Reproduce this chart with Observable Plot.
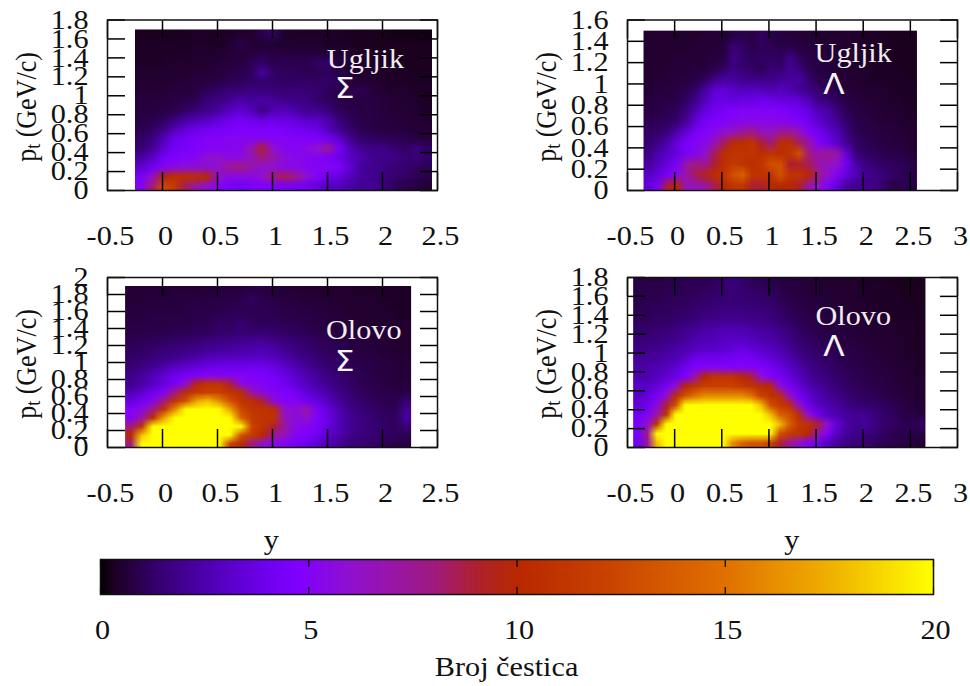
<!DOCTYPE html>
<html><head><meta charset="utf-8">
<script src="https://cdn.jsdelivr.net/npm/d3@7"></script>
<script src="https://cdn.jsdelivr.net/npm/@observablehq/plot@0.6"></script>
<style>
html,body{margin:0;padding:0;background:#fff;}
#page{position:relative;width:970px;height:686px;overflow:hidden;font-family:"Liberation Serif",serif;}
#page svg{position:absolute;display:block;background:transparent;}
.yl{position:absolute;font-size:26px;color:#111;white-space:nowrap;transform:translate(-50%,-50%) rotate(-90deg) scaleY(1.12);}
.yl sub{font-size:18px;vertical-align:-4px;line-height:0;}
</style></head><body><div id="page"></div>
<script>
const colorStops=[0,0.3,1.3,2.6,4,4.8,6,8,9,10,12,15,17.5,20];
const colorHex=["#000000","#1c0020","#34006a","#5000b4","#7000f0","#8000ff","#9010d0","#a01a80","#ae2030","#b82800","#c84000","#e07000","#f0b000","#ffff00"];
const ticks02=[0,.2,.4,.6,.8,1,1.2,1.4,1.6,1.8,2];

const ugljikSigma=[
[.3,.3,.3,.3,.3,.4,.4,.4,.4,.5,.5,.9,1.2,.5,.4,.4,.4,.4,.4,.3,.3,.3,.3,.2,.2,.2,.2],
[.4,.4,.4,.4,.4,.4,.4,.4,.5,.9,.6,.6,.6,.5,.5,.5,.5,.4,.4,.4,.3,.3,.3,.3,.3,.3,.3],
[.4,.4,.4,.4,.4,.5,.5,.5,.6,.6,.7,.8,.8,.7,.7,.7,.7,.6,.5,.5,.4,.4,.3,.3,.3,.3,.3],
[.4,.4,.4,.5,.5,.5,.5,.6,.7,.7,1,1.3,.9,1,1,.9,1.2,1.3,.7,.5,.5,.4,.4,.3,.3,.3,.3],
[.5,.5,.5,.5,.5,.6,.6,.7,.8,.9,1.1,2.2,1.3,1.1,1.1,1,1,1.1,.9,.6,.5,.5,.4,.4,.4,.3,.3],
[.5,.5,.5,.6,.6,.7,.8,.8,1,1.1,1.2,1.3,1.3,1.2,1.2,1.3,1.2,1.3,1,.7,.6,.6,.5,.4,.4,.4,.4],
[.6,.6,.6,.7,.7,.8,1.1,1.3,1.6,1.5,1.8,1.6,1.6,1.5,1.6,1.5,1.4,1.1,.8,.9,1,.7,.6,.5,.5,.4,.4],
[.7,.7,.7,.8,.9,1,1.6,1.7,2,2.5,2.2,2.4,2.2,1.9,1.8,1.8,1.3,1.2,.9,.8,.7,.8,.7,.6,.5,.5,.4],
[.7,.7,.8,.9,1.2,1.5,1.8,2.2,2.8,3.2,2.8,1.7,2.5,2.8,2.5,1.9,2,1.6,1.1,.9,.8,.8,.7,.6,.6,.5,.4],
[.8,.9,1.1,1.6,2.2,2.6,2.8,3.4,3.8,4.2,3.9,3.6,3.8,3.6,3.5,3,3,2.5,1.6,1.1,.9,.8,.7,.7,.6,.6,.5],
[.9,1.2,1.7,2.6,3.4,3.8,4,4.4,4.6,4.8,4.7,4.6,4.8,4.6,4.2,4,3.8,2.8,2,1.3,1,.8,.8,.7,.7,.6,.6],
[1.2,1.6,2.6,3.8,4.3,4.7,5,5,5.2,5.2,5.2,5.2,5.1,5.1,5,4.8,4.6,4.2,3.2,2,1.3,1.2,1.1,1,.9,.8,.7],
[1.5,2,3.2,4.2,4.5,4.8,5,5,5.2,5.2,6.5,9,6,5.2,5,5.5,6,7.5,4.5,2.8,2,1.8,1.8,1.5,1.2,1.6,1.2],
[2.2,3,4.2,4.8,5,5.2,6,6.2,5.6,5.6,6.5,8,7,5.8,5.4,5.2,5,4.6,3.8,3,2.5,2,1.8,1.8,1.5,1.6,1.3],
[3.2,4,5,5.5,5.8,5.8,5.8,6,7.5,8,7,6,6,5.5,5.4,5.2,5,5.2,4.8,3.4,2.2,2,1.8,1.5,1.4,1.2,1],
[4.4,6,9.5,10.5,10.5,10.5,10,6.5,5.5,5.5,5.5,6,8,8.5,8,6,5,4,3.5,2.8,2.2,1.9,1.7,1.4,1.2,1,.8],
[5,8,12.5,11.5,8.5,7,6,5,4.5,4.2,4.5,4.8,4.8,4.5,4.2,4,3.5,3,2.8,2.4,2,2.2,1.6,1.1,.9,.8,.6]];

const ugljikLambda=[
[.5,.5,.5,.5,.5,.5,.6,.6,.6,.8,.9,.8,1.2,.9,.7,.7,.6,.6,.5,.5,.5,.5,.5,.4,.4,.3,.3,.3,.3],
[.5,.5,.5,.5,.5,.6,.6,.6,.7,1.6,1.2,.9,1.1,1,.9,.9,.8,.7,.6,.6,.5,.5,.5,.4,.4,.3,.3,.3,.3],
[.5,.5,.5,.6,.6,.6,.6,.7,.8,1.8,1.3,1.1,1.2,1.2,1.1,1.8,1.1,.8,.7,.7,.6,.5,.5,.4,.4,.4,.3,.3,.3],
[.5,.5,.6,.6,.6,.7,.7,.9,1.2,1.7,1.4,1.3,1,1.5,1.3,2,1.6,1,.8,.7,.6,.5,.5,.5,.4,.4,.4,.3,.3],
[.5,.6,.6,.7,.7,.8,1.1,1.8,2.2,2.2,1.9,1.8,1.8,1.8,2,2.2,2.2,1.4,.9,.8,.6,.6,.5,.5,.4,.4,.4,.4,.3],
[.6,.7,.7,.8,.9,1.3,2.2,3.2,3.4,3,2.8,2.9,2.8,2.5,2.8,2.5,2,1.8,1.3,1,.8,.6,.6,.5,.5,.5,.4,.4,.4],
[.7,.8,.8,.9,1.2,1.9,2.8,3.6,3.7,3.5,3.8,3.7,4,3.9,3.6,3.6,3.4,2.7,1.8,1.5,1.1,.8,.7,.6,.6,.5,.5,.4,.4],
[.8,.8,1,1.1,1.6,2.6,3.5,4.1,4.5,4.8,5,5,5,5,4.9,4.5,4,3.6,2.7,2.4,1.6,1,.8,.7,.6,.6,.5,.5,.4],
[1,1,1.1,1.4,2.2,3.4,4.5,4.8,5,5.2,5.3,5.4,5.4,5.4,5.2,5.2,4.8,4,3.2,2.6,2,1.3,.9,.8,.7,.6,.6,.5,.5],
[1.2,1.3,1.6,2.5,3.4,4.6,5,5.4,6,6.5,7.5,8,6.5,6.5,7.5,7.5,6.6,5,4.3,3.4,2.6,1.7,1,.9,.8,.7,.7,.6,.5],
[1.4,1.7,2.5,3.6,4.5,5,5.5,6.5,8.5,10.5,10.5,11,9,8,10.5,10.5,8.5,7,5,4,3.2,2,1.3,1,.9,.8,.7,.7,.5],
[1.8,2.5,3,3.6,4.5,5.2,6,8.5,10.5,11,11,11,10.5,11,10.5,11,13,8,7,7.5,7,3.5,1.6,1.2,1,.9,.8,.8,.6],
[2.2,2.8,3.5,4.5,7,8,7.5,9,10.5,11.5,11,10.5,11,13,13,9,9,8.5,7,6.5,6,4,2.4,1.7,1.4,1.2,1.1,1,.8],
[3,3.5,4.5,5.5,7,8.5,9.5,10.5,11,13,14,11,11,11,13,11,11,10,8,6,5,3.5,2.6,2,1.8,1.5,1.2,1,.8],
[3.5,4.5,9,10,6.5,6.5,7,8.5,10,11,11,9,9,10,10,10,9,7,6,5,3.5,2.2,2,1.8,1.8,1.2,.8,1,.8]];

const olovoSigma=[
[.6,.6,.6,.6,.6,.6,.6,.6,.7,.7,.7,.8,.8,.7,.6,.6,.5,.5,.5,.5,.5,.4,.4,.4,.4,.4],
[.6,.6,.7,.7,.7,.7,.7,.8,.8,.8,.9,1.2,.9,.8,.7,.7,.6,.6,.6,.5,.5,.5,.5,.4,.4,.4],
[.7,.7,.7,.7,.7,.8,.8,.8,.9,.9,1,1,1,.9,.8,.8,.7,.7,.6,.6,.5,.5,.5,.5,.4,.4],
[.7,.7,.8,.8,.8,.8,.9,.9,1,1.1,1.1,1,1,1,.9,.9,.8,.7,.7,.6,.6,.5,.5,.5,.5,.4],
[.8,.8,.8,.8,.9,.9,1,1,1.3,1.1,1.5,1.2,1.1,1.1,1,1,.9,.8,.7,.7,.6,.6,.5,.5,.5,.5],
[.8,.9,.9,.9,1,1,1.1,1.1,1.3,1.3,1.5,1.4,1.5,1.3,1.2,1.1,1,.9,.8,.7,.7,.6,.6,.6,.5,.5],
[1,1,1.1,1.2,1.3,1.4,1.5,1.7,1.8,1.9,2,2.1,2.1,1.9,1.7,1.4,1.3,1.1,1,.9,.7,.7,.6,.6,.5,.5],
[1.1,1.2,1.3,1.5,1.6,1.7,1.9,2.1,2.2,2.3,2.4,2.5,2.6,2.4,2,1.7,1.4,1.2,1.1,1,.8,.7,.7,.6,.6,.5],
[1.3,1.4,1.6,1.8,2,2.2,2.4,2.8,2.9,3,3,3.1,3.1,2.9,2.5,2,1.7,1.4,1.2,1.1,.9,.8,.8,.7,.6,.6],
[1.4,1.7,2,2.4,2.9,3.2,3.6,3.8,3.9,4,4,4,4,3.6,3.1,2.6,2.1,1.7,1.4,1.3,1,.9,.8,.7,.7,.6],
[1.8,2.2,2.7,3.3,4,4.4,4.8,5,5,5,5,4.9,4.7,4.3,3.7,3.1,2.5,2.1,1.6,1.4,1.1,1,.8,.8,.7,.6],
[1.9,2.4,3,3.6,4.5,6,10,11,11,9,5.6,5.2,5,4.6,4.1,3.4,2.9,2.3,1.9,1.5,1.2,1,.9,.8,.7,.7],
[2.6,3.2,4,5,8,10.5,11.5,12,12,11,10.5,7,5.5,5.2,4.8,4.2,3.4,2.8,2.3,1.8,1.4,1.1,1,.9,.8,.8],
[3.5,4.2,5.2,8,11,13,17,18,16,13,11,10.5,9,5.6,5,5,4.2,3.6,2.8,2,1.6,1.3,1.1,1,.9,1.4],
[5,5.5,8,11,16,26,26,26,24,17,12.5,11,11,10.5,6,5.8,7,4.5,3.4,2.5,1.8,1.5,1.3,1.1,1,2],
[5,7,10.5,17,26,26,26,26,26,20,14,11.5,11,11,6.5,5.6,6,4.8,3.6,2.6,2,1.6,1.4,1.2,1.1,2.2],
[8,11,20,26,26,26,26,26,26,26,20,12,11,9,7,5.5,5.2,4.5,3.5,2.6,2,1.7,1.5,1.3,1.1,1.5],
[10,18,26,26,26,26,26,26,26,20,13,11.5,10,7.5,6.5,5,4.8,4,3.2,2.4,1.9,1.6,1.4,1.2,1.1,1],
[8,20,26,26,26,26,26,26,22,12,10.5,8,6,5.5,5,4.5,3.8,3.2,2.6,2,1.6,1.5,1.3,1,.9,.8]];

const olovoLambda=[
[.8,.8,.8,.9,.9,1,1,1,1.1,1.3,1.6,1.4,1.1,1,.9,.8,.7,.7,.6,.6,.5,.5,.5,.5,.4,.4,.4,.3,.3,.3,.3],
[.8,.9,.9,1,1,1,1,1.2,1.2,1.4,1.5,1.4,1.3,1.2,1.1,1,.8,.7,.7,.6,.6,.5,.5,.5,.4,.4,.4,.4,.3,.3,.3],
[.9,1,1,1,1.1,1.1,1.2,1.3,1.4,1.4,1.5,1.5,1.4,1.4,1.3,1.1,.9,.8,.7,.7,.6,.6,.5,.5,.5,.4,.4,.4,.4,.3,.3],
[1,1,1.1,1.1,1.2,1.2,1.4,1.5,1.6,1.7,1.7,1.7,1.6,1.6,1.5,1.3,1,.9,.8,.7,.7,.6,.6,.5,.5,.5,.4,.4,.4,.4,.3],
[1.1,1.1,1.2,1.2,1.3,1.4,1.6,1.8,1.9,1.9,2,1.9,1.8,1.8,1.6,1.4,1.2,1,.9,.8,.7,.7,.6,.6,.5,.5,.5,.4,.4,.4,.3],
[1.3,1.3,1.4,1.6,1.7,1.9,2.1,2.3,2.4,2.6,2.6,2.6,2.4,2.2,2.1,1.8,1.5,1.2,1,.9,.8,.7,.7,.6,.6,.5,.5,.5,.4,.4,.4],
[1.5,1.6,1.6,1.7,1.9,2.1,2.4,2.6,2.7,2.9,3,3,2.7,2.6,2.4,2.1,1.7,1.4,1.2,1,.9,.8,.7,.7,.6,.6,.5,.5,.5,.4,.4],
[1.7,1.8,1.9,2.1,2.3,2.5,2.8,3,3,3.2,3.4,3.8,3.4,3.1,2.8,2.5,2.1,1.7,1.4,1.2,1,.9,.8,.8,.7,.6,.6,.5,.5,.4,.4],
[2,2.1,2.2,2.4,2.6,3.1,3.8,4,4,4,4.2,4.4,4.2,3.8,3.4,3,2.5,2,1.6,1.4,1.2,1,.9,.8,.8,.7,.6,.6,.5,.5,.4],
[2.4,2.4,2.6,2.8,3.3,4,4.8,5,5.2,5,5,5,5,4.8,4.3,3.7,3.1,2.5,1.9,1.6,1.4,1.1,1,.9,.8,.8,.7,.6,.6,.5,.4],
[2.5,2.5,2.8,3.2,3.8,4.8,7,10,11,11,11,10,9,6,5,4.4,3.5,2.8,2.2,1.8,1.6,1.3,1.1,1,.9,.8,.8,.7,.6,.5,.5],
[3,3,3.5,4.5,6,10,11,12,12,12,12,11.5,11,10.5,10,6,4.5,3.5,2.7,2.2,1.9,1.5,1.3,1.1,1,.9,.8,.7,.6,.6,.5],
[3,3.5,4.5,6,10.5,13,15,16,16,16,16,16,15,12,11,10.5,6.5,4.5,3.3,2.6,2.2,1.8,1.5,1.3,1.1,1,.9,.8,.7,.6,.5],
[3.5,4,5.5,9,13,22,26,26,26,26,26,26,26,18,13,11.5,10.5,6.5,4,3,2.6,2.2,1.8,1.5,1.4,1.3,1.2,1,.8,.7,.6],
[4,5,7,11,22,26,26,26,26,26,26,26,26,24,18,14,13,10.5,6,4,3,2.5,2.2,2,2,1.6,1.3,1.1,.9,.8,.7],
[4.5,6,11,20,26,26,26,26,26,26,26,26,26,26,26,18,14,11.5,11,9,6,3.5,2.4,2,2.2,1.8,1.4,1.2,1,1,1.2],
[4.5,8,20,26,26,26,26,26,26,26,26,26,26,26,22,13,11.5,11,10,7,5,3,2.2,1.8,1.7,1.4,1.2,1,.9,.9,.8],
[4,7,18,26,26,26,26,26,26,22,16,14,13,13,12,9,7.5,6,5,4,3,2.2,1.8,1.5,1.4,1.2,1,.9,.8,.7,.6]];

const panels=[
 {rows:ugljikSigma,x:[-.25,2.45],y:[0,1.7],xd:[-.5,2.5],xt:[-.5,0,.5,1,1.5,2,2.5],yd:[0,1.8],left:0,top:0,w:485,h:250,m:[19.5,48,60,107],name:"Ugljik",sym:"Σ",np:[1.845,1.38],sp:[1.655,1.07]},
 {rows:ugljikLambda,x:[-.33,2.57],y:[0,1.5],xd:[-.5,3],xt:[-.5,0,.5,1,1.5,2,2.5,3],yd:[0,1.6],left:485,top:0,w:485,h:250,m:[19.5,13,60,142],name:"Ugljik",sym:"Λ",np:[1.894,1.285],sp:[1.69,.985]},
 {rows:olovoSigma,x:[-.34,2.26],y:[0,1.9],xd:[-.5,2.5],xt:[-.5,0,.5,1,1.5,2,2.5],yd:[0,2],left:0,top:250,w:485,h:290,m:[27,48,93,107],name:"Olovo",sym:"Σ",np:[1.83,1.373],sp:[1.655,1.008]},
 {rows:olovoLambda,x:[-.44,2.66],y:[0,1.8],xd:[-.5,3],xt:[-.5,0,.5,1,1.5,2,2.5,3],yd:[0,1.8],left:485,top:250,w:485,h:290,m:[27,13,93,142],name:"Olovo",sym:"Λ",np:[1.894,1.385],sp:[1.69,1.067]}
];
const colorScale={type:"linear",domain:colorStops,range:colorHex,clamp:true};
const page=document.getElementById("page");
const TEXT_WIDEN=1.12;
function place(svg,left,top){
  svg.querySelectorAll("text").forEach(t=>{
    t.setAttribute("transform",(t.getAttribute("transform")||"")+" scale("+TEXT_WIDEN+",1)");
  });
  svg.style.left=left+"px";svg.style.top=top+"px";page.appendChild(svg);
}

for(const p of panels){
  const W=p.rows[0].length,H=p.rows.length;
  const flat=p.rows.flat();
  const yt=ticks02.filter(t=>t<=p.yd[1]+1e-9);
  const tk={stroke:"#000",strokeWidth:1.5};
  const svg=Plot.plot({
    width:p.w,height:p.h,marginTop:p.m[0],marginRight:p.m[1],marginBottom:p.m[2],marginLeft:p.m[3],
    style:{fontFamily:"Liberation Serif",fontSize:"27px",background:"transparent",color:"#111"},
    x:{domain:p.xd,axis:null},y:{domain:p.yd,axis:null},color:colorScale,
    marks:[
      Plot.raster(flat,{width:W,height:H,x1:p.x[0],x2:p.x[1],y1:p.y[1],y2:p.y[0],fill:d=>d,imageRendering:"auto"}),
      Plot.axisX({anchor:"bottom",ticks:p.xt,tickSize:-18,tickFormat:()=>"",label:null,...tk}),
      Plot.axisX({anchor:"top",ticks:p.xt,tickSize:-18,tickFormat:()=>"",label:null,...tk}),
      Plot.axisY({anchor:"left",ticks:yt,tickSize:-18,tickFormat:()=>"",label:null,...tk}),
      Plot.axisY({anchor:"right",ticks:yt,tickSize:-18,tickFormat:()=>"",label:null,...tk}),
      Plot.axisX({anchor:"bottom",ticks:p.xt,tickSize:0,tickPadding:35,label:null,dx:3,tickFormat:d=>String(d)}),
      Plot.axisY({anchor:"left",ticks:yt,tickSize:0,tickPadding:19,label:null,tickFormat:d=>String(d)}),
      Plot.frame({stroke:"#111",strokeWidth:1.5}),
      Plot.text([p.name],{x:p.np[0],y:p.np[1],text:d=>d,fill:"#eeeeee",fontSize:27}),
      Plot.text([p.sym],{x:p.sp[0],y:p.sp[1],text:d=>d,fill:"#f4f4f4",fontSize:28,fontFamily:"DejaVu Sans"})
    ]
  });
  place(svg,p.left,p.top);
  const cy=p.top+p.m[0]+(p.h-p.m[0]-p.m[2])/2+2;
  const lab=document.createElement("div");lab.className="yl";
  lab.innerHTML="p<sub>t</sub> (GeV/c)";
  lab.style.left=(p.left+p.m[3]-80)+"px";lab.style.top=cy+"px";
  page.appendChild(lab);
}

const barTicks=[0,5,10,15,20];
const barLabelsY=[{x:4.1,t:"y"},{x:16.6,t:"y"}];
const bar=Plot.plot({
  width:970,height:186,marginTop:59,marginBottom:92,marginLeft:100,marginRight:37,
  style:{fontFamily:"Liberation Serif",fontSize:"27px",background:"transparent",color:"#111"},
  x:{domain:[0,20],axis:null},y:{domain:[0,1],axis:null},color:colorScale,
  marks:[
    Plot.raster({fill:(x)=>x,x1:0,x2:20,y1:0,y2:1,pixelSize:1}),
    Plot.axisX({anchor:"bottom",ticks:barTicks,tickSize:-7,tickFormat:()=>"",label:null,strokeWidth:1.2,stroke:"#000"}),
    Plot.axisX({anchor:"top",ticks:barTicks,tickSize:-7,tickFormat:()=>"",label:null,strokeWidth:1.2,stroke:"#000"}),
    Plot.axisX({anchor:"bottom",ticks:barTicks,tickSize:0,tickPadding:25,label:null,dx:2}),
    Plot.frame({stroke:"#111",strokeWidth:1.5}),
    Plot.text(barLabelsY,{x:"x",text:"t",frameAnchor:"top",dy:-19,lineAnchor:"middle"}),
    Plot.text(["Broj čestica"],{x:9.75,text:d=>d,frameAnchor:"bottom",dy:73,lineAnchor:"middle"})
  ]
});
place(bar,0,500);
</script></body></html>
